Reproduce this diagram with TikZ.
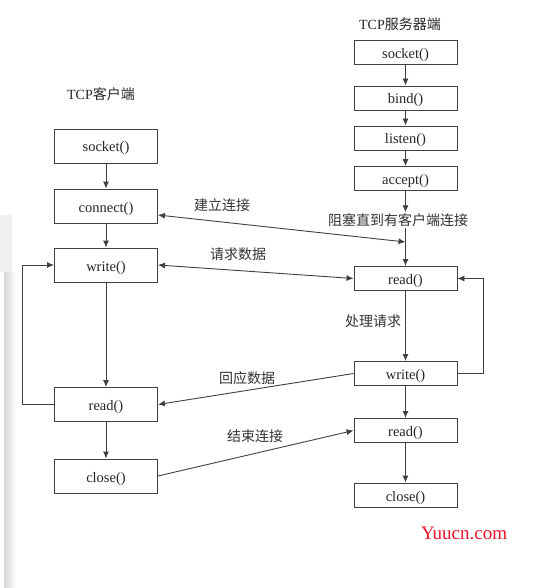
\documentclass[tikz,border=0pt]{standalone}
\usepackage{fontspec}
\setmainfont{Liberation Serif}
\newfontfamily\cjk{Noto Sans CJK SC}
\usetikzlibrary{arrows.meta}
\begin{document}
\begin{tikzpicture}[x=1pt,y=-1pt,
  box/.style={draw=black!75, line width=0.9pt, minimum width=103pt, inner sep=0pt,
              text height=12pt, text depth=0pt,
              font=\fontsize{14.5}{14.5}\selectfont, text=black!85},
  sbox/.style={box, minimum height=24pt},
  cbox/.style={box, minimum height=34pt},
  ln/.style={draw=black!75, line width=0.9pt},
  arr/.style={ln, -{Latex[length=7pt,width=6pt]}},
  dar/.style={ln, {Latex[length=7pt,width=6pt]}-{Latex[length=7pt,width=6pt]}},
  lab/.style={font=\cjk\fontsize{14}{14}\selectfont, text=black!80, inner sep=1pt},
  ttl/.style={font=\fontsize{14}{14}\selectfont, text=black!85, inner sep=1pt}]
\path[fill=white] (0,0) rectangle (544,588);
% screen artefact at left edge
\fill[black!6] (0,215) rectangle (12,272);
\shade[left color=black!15, right color=white] (4,272) rectangle (16,588);

% titles
\node[ttl] (tc) at (101,94) {TCP{\cjk 客户端}};
\node[ttl] (ts) at (400,24) {TCP{\cjk 服务器端}};

% client column
\node[cbox] (cs) at (106,146) {socket()};
\node[cbox] (cc) at (106,206) {connect()};
\node[cbox] (cw) at (106,265) {write()};
\node[cbox] (cr) at (106,404.5) {read()};
\node[cbox] (ccl) at (106,476) {close()};

% server column
\node[sbox] (ss) at (405.5,52.5) {socket()};
\node[sbox] (sb) at (405.5,98) {bind()};
\node[sbox] (sl) at (405.5,138) {listen()};
\node[sbox] (sa) at (405.5,178.5) {accept()};
\node[lab] (blk) at (398,220) {阻塞直到有客户端连接};
\node[sbox] (sr) at (405.5,278.5) {read()};
\node[sbox] (sw) at (405.5,373.5) {write()};
\node[sbox] (sr2) at (405.5,430.5) {read()};
\node[sbox] (scl) at (405.5,495) {close()};
\coordinate (cp) at (405.5,242);

% client flow
\draw[arr] (cs) -- (cc);
\draw[arr] (cc) -- (cw);
\draw[arr] (cw) -- (cr);
\draw[arr] (cr) -- (ccl);
\draw[arr] (cr.west) -- ++(-32,0) |- (cw.west);

% server flow
\draw[arr] (ss) -- (sb);
\draw[arr] (sb) -- (sl);
\draw[arr] (sl) -- (sa);
\draw[arr] (sa.south) -- (sa.south |- blk.north);
\draw[arr] (sa.south |- blk.south) -- (sr.north);
\draw[arr] (sr) -- (sw);
\draw[arr] (sw) -- (sr2);
\draw[arr] (sr2) -- (scl);
\draw[arr] (sw.east) -- ++(26,0) |- (sr.east);

% messages
\draw[dar] ([yshift=-9pt]cc.east) -- (cp);
\draw[dar] (cw.east) -- (sr.west);
\draw[arr] (sw.west) -- (cr.east);
\draw[arr] (ccl.east) -- (sr2.west);

% labels
\node[lab] (l1) at (222,205) {建立连接};
\node[lab] (l2) at (238,254) {请求数据};
\node[lab] (l3) at (373,321) {处理请求};
\node[lab] (l4) at (247,378) {回应数据};
\node[lab] (l5) at (255,436) {结束连接};

% watermark
\node[font=\fontsize{19}{19}\selectfont, text={rgb,255:red,235;green,20;blue,40}] (wm) at (464,533) {Yuucn.com};
\end{tikzpicture}
\end{document}
